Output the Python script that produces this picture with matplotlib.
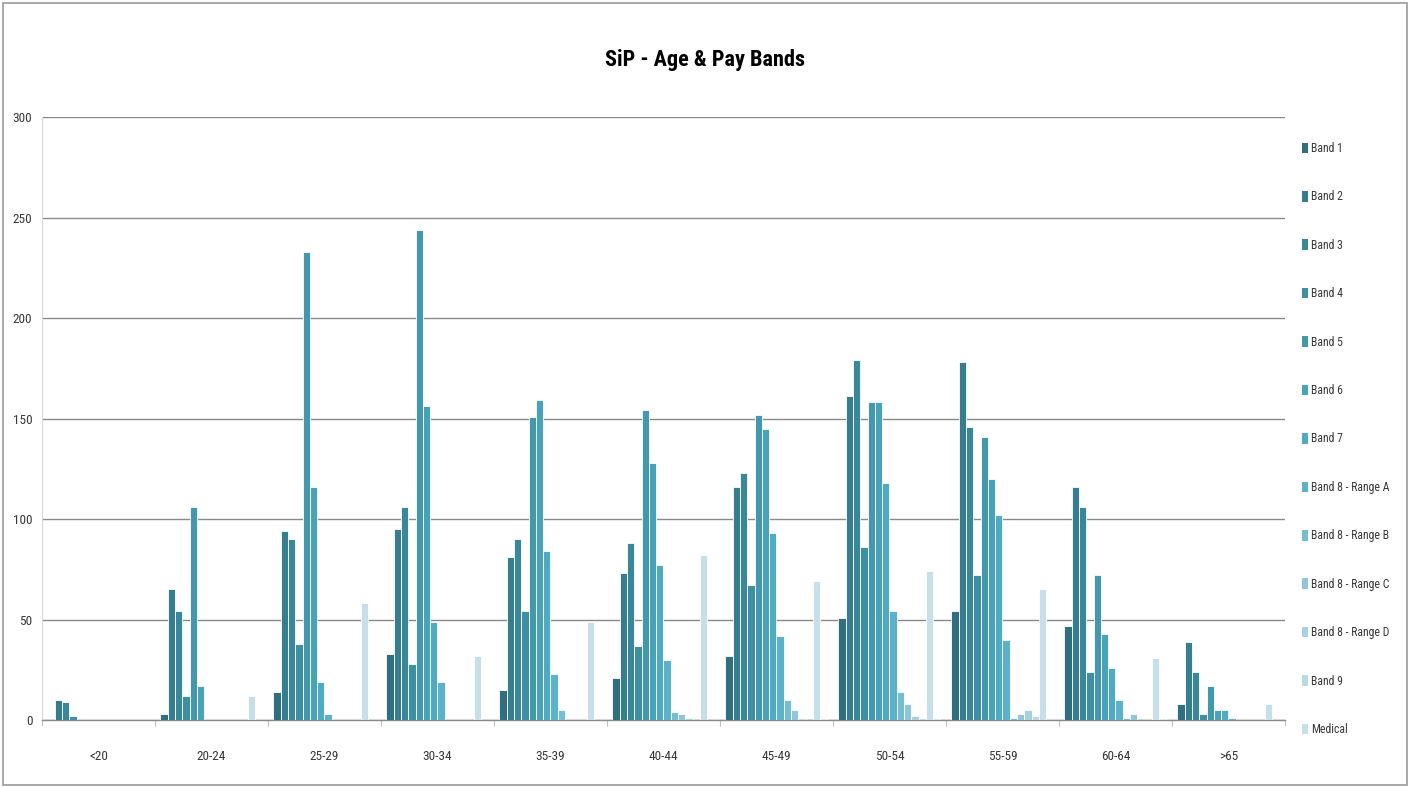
import matplotlib
matplotlib.use("Agg")
import matplotlib.pyplot as plt
from matplotlib import font_manager
from matplotlib.patches import Patch, Rectangle
import numpy as np

# Pick the narrowest sans face available for the chart text
installed = font_manager.fontManager.ttflist
preferred = ['Liberation Sans Narrow', 'Arial Narrow', 'Roboto Condensed',
             'Open Sans Condensed', 'Noto Sans Condensed', 'DejaVu Sans Condensed']
chosen_family, chosen_stretch = None, 'normal'
for want in preferred:
    if any(e.name == want for e in installed):
        chosen_family = want
        break
if chosen_family is None:
    for e in installed:
        if e.stretch in ('condensed', 'semi-condensed') or 'Condensed' in e.name:
            chosen_family, chosen_stretch = e.name, e.stretch
            break
if chosen_family is None:
    chosen_family = 'Liberation Sans'
plt.rcParams['font.family'] = [chosen_family, 'DejaVu Sans']
plt.rcParams['font.stretch'] = chosen_stretch

# Age bands along the x axis
age_bands = ['<20', '20-24', '25-29', '30-34', '35-39', '40-44',
             '45-49', '50-54', '55-59', '60-64', '>65']

# Head count per pay band in each age band
band_1 = [0, 3, 14, 33, 15, 21, 32, 51, 54, 47, 8]
band_2 = [10, 65, 94, 95, 81, 73, 116, 161, 178, 116, 39]
band_3 = [9, 54, 90, 106, 90, 88, 123, 179, 146, 106, 24]
band_4 = [2, 12, 38, 28, 54, 37, 67, 86, 72, 24, 3]
band_5 = [0, 106, 233, 244, 151, 154, 152, 158, 141, 72, 17]
band_6 = [0, 17, 116, 156, 159, 128, 145, 158, 120, 43, 5]
band_7 = [0, 0, 19, 49, 84, 77, 93, 118, 102, 26, 5]
band_8a = [0, 0, 3, 19, 23, 30, 42, 54, 40, 10, 1]
band_8b = [0, 0, 0, 0, 5, 4, 10, 14, 1, 1, 0]
band_8c = [0, 0, 0, 0, 0, 3, 5, 8, 3, 3, 0]
band_8d = [0, 0, 0, 0, 0, 1, 0, 2, 5, 0, 0]
band_9 = [0, 0, 0, 0, 0, 0, 1, 0, 2, 0, 0]
medical = [0, 12, 58, 32, 49, 82, 69, 74, 65, 31, 8]
series_14 = [0, 0, 0, 0, 0, 0, 1, 1, 0, 1, 0]

legend_names = ['Band 1', 'Band 2', 'Band 3', 'Band 4', 'Band 5', 'Band 6',
                'Band 7', 'Band 8 - Range A', 'Band 8 - Range B',
                'Band 8 - Range C', 'Band 8 - Range D', 'Band 9', 'Medical']

series = [band_1, band_2, band_3, band_4, band_5, band_6, band_7,
          band_8a, band_8b, band_8c, band_8d, band_9, medical, series_14]

colors = ['#2f6f80', '#357d8f', '#3a8799', '#3e8fa2', '#4398ad', '#48a2b8',
          '#4eabc2', '#5bb2c9', '#75bdd0', '#8fc7d8', '#a7d1df', '#b9d9e4',
          '#c6dfe8', '#d3e7ee']

fig = plt.figure(figsize=(14.10, 7.87), dpi=100)
fig.patch.set_facecolor('white')
fig.add_artist(Rectangle((0.002, 0.003), 0.996, 0.993, transform=fig.transFigure,
                         fill=False, edgecolor='#9a9a9a', linewidth=1.2))

ax = fig.add_axes([0.0298, 0.0851, 0.8815, 0.7662])

n = len(series)
width = 1.0 / (n + 1.5)
x = np.arange(len(age_bands))
for j, (vals, col) in enumerate(zip(series, colors)):
    label = legend_names[j] if j < len(legend_names) else '_nolegend_'
    ax.bar(x + (j - (n - 1) / 2) * width, vals, width=width, color=col,
           edgecolor='white', linewidth=0.6, label=label, zorder=3)

ax.set_xlim(-0.5, len(age_bands) - 0.5)
ax.set_ylim(0, 300)
ax.set_yticks(np.arange(0, 301, 50))
ax.yaxis.grid(True, color='#8a8a8a', linewidth=1.0, zorder=0)
ax.set_axisbelow(True)

ax.set_xticks(x)
ax.set_xticklabels(age_bands)
ax.set_xticks(np.arange(-0.5, len(age_bands), 1), minor=True)
ax.tick_params(axis='x', which='major', length=0, pad=21.5, labelsize=9.5, labelcolor='#383838')
ax.tick_params(axis='x', which='minor', length=4, color='#bfbfbf', width=0.8)
ax.tick_params(axis='y', length=0, pad=7, labelsize=9.5, labelcolor='#383838')

for side in ('top', 'right'):
    ax.spines[side].set_visible(False)
ax.spines['left'].set_color('#d9d9d9')
ax.spines['bottom'].set_color('#8a8a8a')
ax.spines['bottom'].set_linewidth(1.0)

fig.text(0.5, 0.924, 'SiP - Age & Pay Bands', ha='center', va='center',
         fontsize=16, fontweight='bold', color='black')

handles = [Patch(facecolor=c, edgecolor='none') for c in colors[:len(legend_names)]]
leg = fig.legend(handles, legend_names, loc='upper left',
                 bbox_to_anchor=(0.9234, 0.8196), frameon=False, fontsize=8.5,
                 handlelength=0.55, handleheight=1.0, handletextpad=0.25,
                 labelspacing=3.0, borderaxespad=0, borderpad=0)
for t in leg.get_texts():
    t.set_color('#383838')

fig.savefig('out.png', dpi=100, facecolor='white')
